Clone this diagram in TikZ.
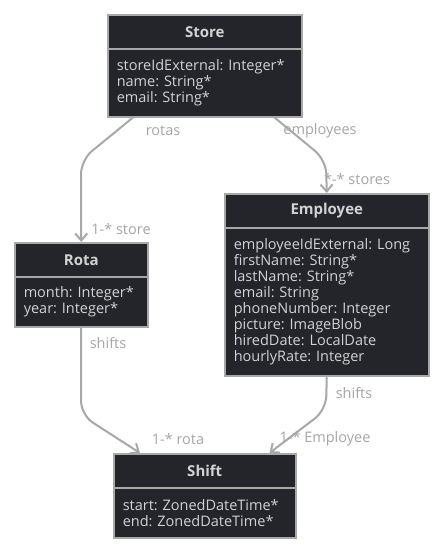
\documentclass[tikz,border=0pt]{standalone}
\usepackage{fontspec}
\setmainfont{Open Sans}
\usetikzlibrary{calc,arrows.meta}
\definecolor{boxfill}{HTML}{23252B}
\definecolor{boxline}{HTML}{A8A8A8}
\definecolor{boxtext}{HTML}{D2D2D2}
\definecolor{lbltext}{HTML}{A6A6A6}
\tikzset{
  classhead/.style={draw=boxline, fill=boxfill, text=boxtext, line width=1.5pt,
    font=\fontsize{15}{16}\selectfont\bfseries, anchor=north west,
    inner xsep=0pt, inner ysep=0pt, minimum height=34pt, align=center},
  classbody/.style={draw=boxline, fill=boxfill, text=boxtext, line width=1.5pt,
    font=\fontsize{14.5}{16}\selectfont\frenchspacing, anchor=north west,
    inner xsep=9pt, inner ysep=0pt, align=left},
  assoc/.style={draw=boxline, line width=2pt, rounded corners=14pt,
    -{Straight Barb[length=7pt,width=12pt,line width=2pt]}},
  lbl/.style={text=lbltext, font=\fontsize{14.5}{16}\selectfont, inner sep=0pt},
}

\begin{document}
\begin{tikzpicture}[x=1pt,y=-1pt]
        \useasboundingbox[fill=white] (0,0) rectangle (442,552);

        % classes
        \node[classhead, text width=194pt] (storeH) at (107,14) {Store};
        \node[classbody, text width=176pt, minimum height=68pt] (storeB) at (107,48)
          {storeIdExternal: Integer*\\name: String*\\email: String*};

        \node[classhead, text width=133pt] (rotaH) at (14,242) {Rota};
        \node[classbody, text width=115pt, minimum height=50pt] (rotaB) at (14,276)
          {month: Integer*\\year: Integer*};

        \node[classhead, text width=204pt] (empH) at (224,193) {Employee};
        \node[classbody, text width=186pt, minimum height=148pt] (empB) at (224,227)
          {employeeIdExternal: Long\\firstName: String*\\lastName: String*\\email: String\\
           phoneNumber: Integer\\picture: ImageBlob\\hiredDate: LocalDate\\hourlyRate: Integer};

        \node[classhead, text width=182pt] (shiftH) at (113,453) {Shift};
        \node[classbody, text width=164pt, minimum height=50pt] (shiftB) at (113,487)
          {start: ZonedDateTime*\\end: ZonedDateTime*};

        % associations
        \draw[assoc] ($(storeB.south west)+(26,0)$) -- (81,160) -- (rotaH.north);
        \draw[assoc] ($(storeB.south east)+(-28,0)$) -- (326,160) -- (empH.north);
        \draw[assoc] (rotaB.south) -- (81,415) -- ($(shiftH.north west)+(27,0)$);
        \draw[assoc] (empB.south) -- (326,410) -- ($(shiftH.north east)+(-27,0)$);

        % role labels
        \node[lbl] (rotasL) at (163,131) {rotas};
        \node[lbl] (rotaStoreL) at (121,229) {1-* store};
        \node[lbl] (employeesL) at (320,131) {employees};
        \node[lbl] (empStoresL) at (357,179) {*-* stores};
        \node[lbl] (rotaShiftsL) at (108,343) {shifts};
        \node[lbl] (shiftRotaL) at (178,439) {1-* rota};
        \node[lbl] (empShiftsL) at (354,393) {shifts};
        \node[lbl] (shiftEmpL) at (325,439) {1-* Employee};
    \end{tikzpicture}
\end{document}
